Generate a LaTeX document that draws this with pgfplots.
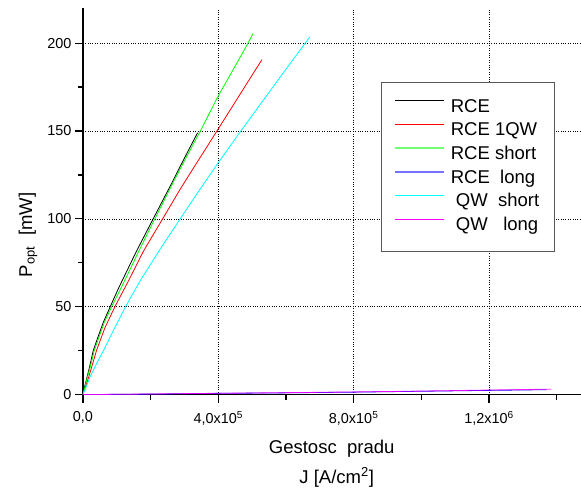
\documentclass[border=0pt]{standalone}
\usepackage{fontspec}
\setmainfont{Liberation Sans}
\usepackage{pgfplots}
\pgfplotsset{compat=1.18}
\definecolor{lgreen}{rgb}{0,1,0}
\definecolor{lblue}{rgb}{0,0,1}
\definecolor{lcyan}{rgb}{0,1,1}
\definecolor{lmagenta}{rgb}{1,0,1}
\definecolor{lred}{rgb}{1,0,0}

\begin{document}
\begin{tikzpicture}
\begin{axis}[
  name=ax,
  at={(0,0)}, anchor=south west,
  scale only axis, width=498bp, height=387bp,
  xmin=0, xmax=1470000, ymin=0, ymax=220,
  axis x line*=bottom, axis y line*=left,
  axis line style={-, line width=1.2bp, black},
  tick align=outside,
  major tick length=8bp, minor tick length=5bp,
  every tick/.style={black, line width=1.2bp},
  scaled x ticks=false, scaled y ticks=false,
  xtick={0,400000,800000,1200000},
  xticklabels={{0,0},{4,0x10\textsuperscript{5}},{8,0x10\textsuperscript{5}},{1,2x10\textsuperscript{6}}},
  minor xtick={200000,600000,1000000,1400000},
  ytick={0,50,100,150,200},
  yticklabels={0,50,100,150,200},
  minor ytick={25,75,125,175},
  xmajorgrids, ymajorgrids,
  major grid style={dotted, black, line width=0.7bp},
  tick label style={font=\fontsize{14.5}{17}\selectfont},
  xticklabel style={yshift=-5bp},
  ylabel={P\textsubscript{opt}\ \ [mW]},
  ylabel style={at={(axis description cs:-0.1104,0.413)}, anchor=center,
                font=\fontsize{18.6}{22}\selectfont},
  xlabel={Gestosc\ \ pradu},
  xlabel style={at={(axis description cs:0.5,0)}, anchor=base, yshift=-59bp,
                font=\fontsize{18.6}{22}\selectfont},
  legend style={at={(0.6,0.8096)}, anchor=north west,
    draw=black!65, line width=0.8bp, fill=white,
    font=\fontsize{18.6}{22}\selectfont,
    inner xsep=12.5bp, inner ysep=13.5bp, row sep=0pt,
    nodes={inner xsep=2.8bp, inner ysep=2.65bp, text height=14bp, text depth=4.4bp}},
  legend cell align=left,
  legend image code/.code={
    \draw[#1] (0bp,6.5bp) -- (49bp,6.5bp);
    \path (52bp,6.5bp);},
  every axis plot/.append style={line width=0.8bp},
]
% RCE
\addplot[black, forget plot] coordinates {
 (0,0) (5000,4.5) (12800,10.4) (20000,16) (30500,25) (45000,33) (60000,41)
 (81800,50.5) (104000,60) (119000,66) (158000,81.5) (207600,100)
 (240000,112) (266600,121.8) (285700,129.2) (310000,138.3) (339000,149)
};
% RCE 1QW
\addplot[lred, forget plot] coordinates {
 (0,0) (8000,4.5) (17700,10.4) (28000,17) (40000,25) (65000,38) (94500,50)
 (119000,59) (134000,64.5) (180000,82) (234000,99.5) (286300,116.5)
 (304000,122) (350000,136) (396000,150) (450000,166.5) (500000,181.8)
 (529000,190.6)
};
% RCE short
\addplot[lgreen, forget plot] coordinates {
 (0,0) (6000,4.5) (14000,10.4) (22000,16) (33400,25) (48000,33) (63000,41)
 (86000,50.5) (111000,60) (140000,71.5) (166000,82) (212500,100)
 (271600,122.6) (300000,133) (347000,150) (400000,170) (450000,187)
 (488000,200) (503000,205.6)
};
% RCE long
\addplot[lblue, forget plot] coordinates {
 (0,0) (200000,0.3) (400000,0.7) (600000,1.0) (800000,1.4)
 (1000000,1.9) (1200000,2.4) (1370000,2.8)
};
% QW short
\addplot[lcyan, forget plot] coordinates {
 (0,0) (10000,4.5) (21000,10) (40000,17.5) (62000,25.5) (90000,36.5)
 (126000,50) (153500,59.5) (173000,66) (230000,83.3) (289000,100.5)
 (343000,116) (400000,132) (468500,150.5) (550000,172) (600000,185.2)
 (655000,199.5) (670000,203.5)
};
% QW long
\addplot[lmagenta, opacity=0.85, forget plot] coordinates {
 (0,0) (200000,0.35) (400000,0.75) (600000,1.1) (800000,1.5)
 (1000000,2.0) (1200000,2.6) (1384000,3.1)
};
% legend samples
\addlegendimage{black, line width=0.9bp}
\addlegendentry{RCE}
\addlegendimage{lred, line width=0.9bp}
\addlegendentry{RCE 1QW}
\addlegendimage{lgreen!55!white, line width=1.8bp}
\addlegendentry{RCE short}
\addlegendimage{lblue!55!white, line width=1.8bp}
\addlegendentry{RCE\ \ long}
\addlegendimage{lcyan, line width=0.9bp}
\addlegendentry{\ QW\ \ short}
\addlegendimage{lmagenta, line width=0.9bp}
\addlegendentry{\ QW\ \ \ long}
\end{axis}
\node[anchor=base, font=\fontsize{18.6}{22}\selectfont]
  at ([xshift=5bp, yshift=-88.5bp]ax.south) {J [A/cm\textsuperscript{2}]};
\path[use as bounding box] (-83bp,-92bp) rectangle (498bp,395bp);
\end{tikzpicture}
\end{document}
